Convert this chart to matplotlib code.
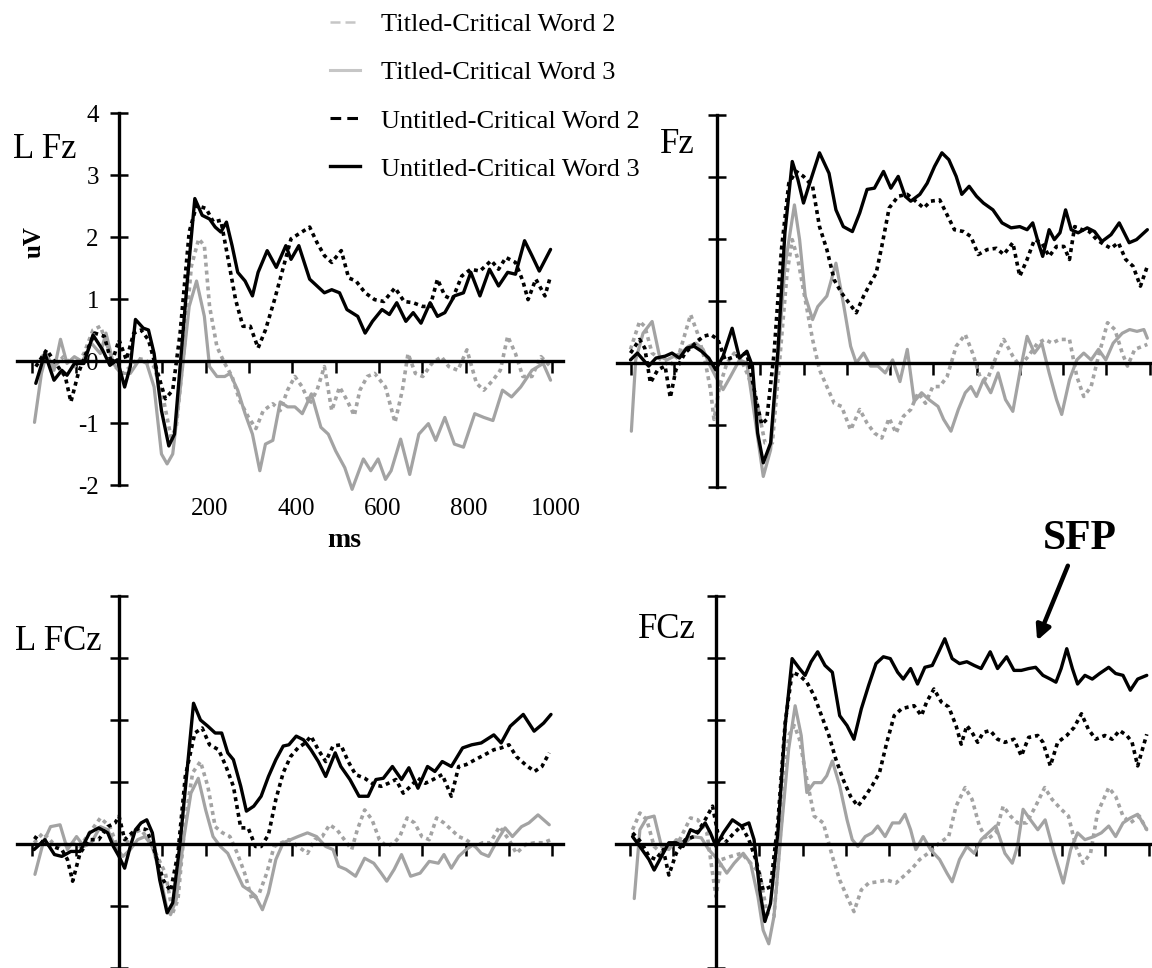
import matplotlib
matplotlib.use("Agg")
import matplotlib.pyplot as plt
from matplotlib.lines import Line2D

plt.rcParams["font.family"] = ["Liberation Serif", "DejaVu Serif"]
plt.rcParams["axes.unicode_minus"] = False

# ---- data: (ms, uV) pairs ----
lfz_titled2 = [(-192, -0.04), (-171, 0.12), (-150, -0.09), (-128, 0.07), (-103, -0.09), (-81, 0.12), (-60, 0.50), (-43, 0.56), (-26, 0.23), (-9, -0.09), (9, -0.20), (26, -0.09), (43, 0.04), (60, 0.02), (81, -0.09), (103, -0.63), (120, -1.23), (132, -1.07), (150, 0.18), (167, 1.53), (184, 1.97), (197, 1.86), (209, 0.88), (226, 0.23), (244, -0.04), (261, -0.25), (278, -0.63), (299, -0.91), (316, -1.09), (333, -0.80), (355, -0.69), (372, -0.80), (389, -0.47), (406, -0.25), (423, -0.42), (440, -0.69), (457, -0.47), (474, -0.09), (491, -0.80), (509, -0.42), (526, -0.63), (543, -0.88), (556, -0.47), (573, -0.25), (590, -0.20), (615, -0.42), (637, -0.99), (654, -0.47), (667, 0.12), (684, -0.20), (701, -0.25), (722, -0.04), (744, 0.07), (761, -0.09), (782, -0.15), (803, 0.18), (825, -0.36), (842, -0.47), (863, -0.31), (880, -0.15), (897, 0.40), (915, 0.12), (932, -0.25), (953, -0.25), (974, 0.07), (996, -0.09)]
lfz_titled3 = [(-195, -0.99), (-179, -0.20), (-167, 0.12), (-150, -0.15), (-135, 0.35), (-120, -0.04), (-103, 0.07), (-85, -0.01), (-64, 0.29), (-43, 0.12), (-30, 0.45), (-13, -0.04), (4, -0.20), (26, -0.20), (47, 0.02), (64, -0.04), (81, -0.42), (98, -1.50), (111, -1.66), (124, -1.50), (141, -0.47), (162, 0.88), (179, 1.29), (197, 0.72), (209, -0.09), (226, -0.25), (244, -0.25), (256, -0.20), (274, -0.47), (291, -0.85), (308, -1.18), (325, -1.77), (338, -1.34), (355, -1.28), (372, -0.66), (389, -0.74), (406, -0.74), (423, -0.85), (444, -0.53), (466, -1.07), (483, -1.18), (500, -1.45), (521, -1.72), (538, -2.07), (564, -1.58), (581, -1.77), (598, -1.58), (615, -1.91), (628, -1.77), (650, -1.26), (671, -1.83), (692, -1.18), (714, -1.01), (731, -1.28), (752, -0.91), (774, -1.34), (795, -1.39), (821, -0.85), (842, -0.91), (863, -0.96), (885, -0.47), (906, -0.58), (927, -0.42), (953, -0.15), (979, -0.04), (996, -0.31)]
lfz_untitled2 = [(-192, -0.09), (-167, 0.18), (-141, -0.09), (-124, -0.25), (-111, -0.66), (-94, -0.20), (-73, 0.18), (-56, 0.45), (-34, 0.40), (-17, -0.04), (0, 0.34), (17, 0.02), (34, 0.45), (51, 0.50), (68, 0.34), (85, -0.09), (107, -0.61), (124, -0.47), (141, 0.45), (162, 2.08), (179, 2.51), (201, 2.46), (218, 2.24), (235, 2.27), (252, 1.64), (269, 0.99), (286, 0.56), (303, 0.56), (321, 0.21), (338, 0.50), (359, 0.99), (380, 1.53), (397, 1.97), (415, 2.05), (440, 2.16), (457, 1.91), (474, 1.70), (491, 1.59), (513, 1.78), (530, 1.34), (547, 1.29), (568, 1.10), (590, 0.99), (611, 0.96), (637, 1.18), (658, 0.96), (679, 0.94), (701, 0.88), (718, 0.88), (735, 1.32), (752, 1.05), (769, 0.99), (791, 1.37), (812, 1.48), (833, 1.45), (859, 1.62), (876, 1.48), (893, 1.67), (915, 1.59), (932, 1.29), (944, 0.99), (962, 1.32), (983, 1.05), (996, 1.37)]
lfz_untitled3 = [(-192, -0.36), (-171, 0.12), (-150, -0.31), (-132, -0.15), (-120, -0.23), (-103, -0.04), (-81, -0.04), (-60, 0.42), (-38, 0.18), (-21, -0.07), (-4, 0.02), (13, -0.42), (26, -0.09), (38, 0.67), (56, 0.53), (68, 0.50), (81, 0.12), (98, -0.80), (115, -1.37), (128, -1.18), (141, -0.09), (158, 1.32), (175, 2.62), (192, 2.35), (209, 2.29), (222, 2.16), (235, 2.08), (248, 2.24), (261, 1.86), (274, 1.43), (291, 1.29), (308, 1.05), (321, 1.43), (342, 1.78), (363, 1.51), (385, 1.86), (397, 1.64), (415, 1.86), (440, 1.32), (457, 1.21), (474, 1.10), (491, 1.15), (509, 1.10), (526, 0.83), (551, 0.72), (568, 0.45), (585, 0.64), (607, 0.83), (624, 0.75), (641, 0.94), (662, 0.64), (679, 0.78), (697, 0.61), (718, 0.94), (735, 0.72), (752, 0.78), (774, 1.05), (795, 1.10), (812, 1.43), (833, 1.05), (855, 1.48), (876, 1.21), (897, 1.43), (915, 1.40), (936, 1.94), (953, 1.70), (970, 1.45), (996, 1.80)]

fz_titled2 = [(-200, 0.22), (-179, 0.67), (-167, 0.59), (-150, 0.16), (-129, 0.05), (-108, -0.05), (-87, 0.16), (-61, 0.78), (-45, 0.48), (-28, 0.05), (-15, -0.43), (-7, -0.91), (6, -0.38), (23, 0.0), (40, 0.16), (56, 0.05), (73, -0.22), (94, -0.70), (111, -1.29), (128, -1.29), (145, 0.05), (162, 1.45), (174, 1.99), (187, 1.67), (204, 1.02), (221, 0.38), (237, -0.11), (254, -0.38), (271, -0.65), (288, -0.70), (309, -1.08), (330, -0.75), (347, -0.97), (364, -1.13), (381, -1.21), (398, -0.89), (414, -1.13), (431, -0.86), (448, -0.75), (465, -0.48), (482, -0.65), (499, -0.38), (515, -0.38), (532, -0.22), (553, 0.27), (574, 0.46), (591, 0.16), (608, -0.22), (625, -0.27), (646, 0.11), (663, 0.38), (684, 0.11), (700, -0.05), (720, 0.11), (741, 0.32), (758, 0.38), (775, 0.32), (792, 0.38), (815, 0.38), (832, -0.22), (848, -0.54), (865, -0.38), (882, 0.11), (903, 0.65), (920, 0.54), (937, 0.16), (949, -0.05), (966, 0.22), (995, 0.30)]
fz_titled3 = [(-198, -1.10), (-188, 0.05), (-171, 0.48), (-150, 0.67), (-133, 0.11), (-116, 0.05), (-99, 0.11), (-83, 0.16), (-66, 0.27), (-49, 0.32), (-32, 0.22), (-19, 0.0), (-3, -0.22), (14, -0.43), (31, -0.22), (52, 0.05), (69, 0.0), (86, -0.81), (107, -1.83), (124, -1.40), (141, 0.05), (157, 1.56), (179, 2.55), (191, 1.99), (204, 1.08), (221, 0.70), (233, 0.91), (254, 1.08), (275, 1.61), (292, 0.97), (309, 0.27), (322, 0.0), (339, 0.16), (355, -0.05), (372, -0.05), (389, -0.16), (406, 0.05), (423, -0.30), (440, 0.22), (456, -0.62), (473, -0.48), (490, -0.59), (511, -0.70), (524, -0.91), (541, -1.10), (558, -0.75), (574, -0.48), (587, -0.38), (600, -0.54), (616, -0.27), (633, -0.48), (650, -0.16), (667, -0.59), (684, -0.78), (700, -0.16), (717, 0.43), (734, 0.16), (751, 0.32), (768, -0.16), (785, -0.59), (797, -0.83), (815, -0.27), (832, 0.05), (848, 0.16), (865, 0.05), (882, 0.22), (899, 0.05), (916, 0.32), (937, 0.48), (954, 0.54), (971, 0.51), (987, 0.54), (995, 0.40)]
fz_untitled2 = [(-200, 0.16), (-179, 0.38), (-167, 0.24), (-154, -0.32), (-137, -0.11), (-120, -0.05), (-108, -0.56), (-95, -0.11), (-74, 0.16), (-53, 0.30), (-32, 0.43), (-15, 0.46), (2, 0.38), (19, 0.05), (44, 0.11), (69, 0.16), (86, -0.43), (103, -0.99), (115, -0.91), (132, 0.16), (149, 1.83), (166, 2.90), (183, 3.09), (200, 3.01), (221, 2.85), (237, 2.20), (254, 1.83), (271, 1.34), (288, 1.13), (305, 0.97), (322, 0.81), (339, 1.08), (355, 1.29), (368, 1.45), (381, 1.88), (398, 2.50), (419, 2.69), (440, 2.72), (456, 2.63), (478, 2.50), (494, 2.61), (515, 2.63), (532, 2.39), (549, 2.15), (570, 2.12), (587, 2.04), (604, 1.75), (625, 1.83), (646, 1.85), (663, 1.75), (684, 1.94), (700, 1.40), (717, 1.67), (734, 1.99), (751, 1.94), (768, 1.72), (785, 1.88), (802, 1.88), (815, 1.67), (827, 2.20), (844, 2.15), (861, 2.12), (878, 1.99), (895, 1.91), (911, 1.85), (928, 1.94), (945, 1.67), (962, 1.56), (979, 1.24), (995, 1.56)]
fz_untitled3 = [(-200, 0.05), (-184, 0.16), (-158, -0.05), (-141, 0.08), (-120, 0.11), (-104, 0.16), (-87, 0.08), (-70, 0.24), (-53, 0.27), (-36, 0.19), (-19, 0.08), (-3, -0.11), (14, 0.11), (35, 0.56), (52, 0.08), (69, 0.19), (82, -0.05), (94, -1.13), (107, -1.61), (124, -1.29), (141, 0.22), (157, 2.10), (174, 3.25), (187, 2.96), (200, 2.58), (212, 2.85), (237, 3.39), (259, 3.06), (275, 2.47), (292, 2.20), (313, 2.12), (330, 2.42), (347, 2.80), (364, 2.82), (385, 3.09), (402, 2.82), (419, 3.01), (435, 2.69), (448, 2.61), (469, 2.72), (486, 2.90), (503, 3.17), (520, 3.39), (536, 3.28), (553, 3.01), (566, 2.72), (583, 2.85), (600, 2.69), (616, 2.58), (638, 2.47), (659, 2.26), (680, 2.18), (700, 2.20), (717, 2.15), (730, 2.26), (743, 1.94), (753, 1.72), (768, 2.15), (780, 1.99), (793, 2.10), (806, 2.47), (819, 2.15), (835, 2.10), (856, 2.18), (873, 2.12), (890, 1.96), (911, 2.07), (930, 2.26), (953, 1.94), (970, 1.99), (995, 2.15)]

lfcz_titled2 = [(-196, 0.02), (-175, 0.18), (-153, 0.02), (-132, -0.04), (-111, 0.02), (-90, -0.04), (-68, 0.18), (-43, 0.42), (-21, 0.28), (-4, -0.04), (17, 0.02), (34, 0.18), (51, 0.23), (68, 0.07), (85, -0.15), (107, -0.47), (124, -1.11), (136, -0.90), (153, 0.39), (170, 1.15), (188, 1.33), (205, 0.93), (222, 0.28), (239, 0.18), (256, 0.12), (273, -0.15), (290, -0.47), (307, -0.90), (324, -0.79), (341, -0.47), (358, -0.04), (375, 0.02), (392, 0.07), (413, -0.04), (435, -0.15), (452, 0.07), (469, 0.12), (486, 0.31), (503, 0.23), (520, 0.07), (537, -0.09), (550, 0.23), (567, 0.55), (584, 0.39), (601, 0.07), (618, -0.04), (635, 0.02), (648, 0.12), (665, 0.42), (682, 0.34), (699, 0.12), (716, 0.07), (733, 0.42), (750, 0.34), (767, 0.23), (784, 0.12), (801, 0.07), (822, -0.04), (839, 0.02), (857, 0.02), (878, 0.28), (900, 0.07), (917, -0.15), (938, -0.01), (959, 0.02), (980, 0.02), (997, 0.07)]
lfcz_titled3 = [(-194, -0.49), (-175, 0.02), (-158, 0.28), (-136, 0.31), (-119, -0.09), (-98, 0.12), (-81, -0.04), (-64, 0.02), (-43, 0.28), (-26, 0.23), (-9, -0.04), (9, -0.20), (26, -0.09), (43, 0.07), (60, 0.12), (77, -0.04), (94, -0.47), (111, -1.06), (119, -1.14), (132, -0.90), (149, 0.07), (166, 0.82), (183, 1.06), (200, 0.55), (217, 0.12), (234, -0.04), (251, -0.15), (268, -0.41), (286, -0.68), (303, -0.76), (315, -0.84), (331, -1.06), (345, -0.79), (362, -0.25), (379, 0.02), (396, 0.07), (413, 0.12), (435, 0.18), (456, 0.12), (477, -0.04), (494, -0.09), (507, -0.36), (524, -0.41), (546, -0.52), (567, -0.23), (588, -0.31), (605, -0.47), (618, -0.60), (635, -0.41), (652, -0.17), (673, -0.52), (695, -0.47), (716, -0.28), (737, -0.31), (750, -0.17), (767, -0.39), (784, -0.20), (801, -0.09), (818, -0.01), (836, -0.15), (853, -0.20), (874, 0.07), (891, 0.26), (908, 0.12), (929, 0.28), (946, 0.34), (967, 0.47), (993, 0.31)]
lfcz_untitled2 = [(-196, 0.12), (-175, 0.02), (-153, -0.04), (-132, -0.09), (-119, -0.25), (-107, -0.60), (-90, -0.15), (-68, 0.07), (-47, 0.07), (-26, 0.28), (-9, 0.34), (0, 0.45), (13, 0.07), (30, 0.18), (47, 0.26), (64, 0.23), (81, -0.09), (102, -0.58), (119, -0.76), (136, -0.15), (153, 1.09), (175, 1.79), (192, 1.87), (209, 1.60), (230, 1.52), (247, 1.25), (264, 0.93), (281, 0.26), (298, 0.26), (315, -0.04), (328, -0.04), (345, 0.15), (362, 0.72), (379, 1.15), (396, 1.41), (413, 1.55), (430, 1.63), (443, 1.74), (460, 1.52), (477, 1.33), (494, 1.58), (512, 1.60), (529, 1.33), (546, 1.12), (567, 1.06), (588, 0.96), (605, 0.93), (622, 0.98), (639, 1.04), (656, 0.82), (673, 0.93), (690, 1.06), (707, 0.98), (725, 1.04), (746, 1.12), (767, 0.77), (784, 1.25), (801, 1.28), (822, 1.36), (844, 1.44), (865, 1.52), (882, 1.55), (900, 1.60), (917, 1.41), (938, 1.28), (959, 1.17), (976, 1.25), (993, 1.47)]
lfcz_untitled3 = [(-196, -0.09), (-171, 0.07), (-149, -0.17), (-132, -0.20), (-111, -0.12), (-90, -0.12), (-68, 0.18), (-47, 0.26), (-26, 0.18), (-13, -0.04), (0, -0.20), (13, -0.39), (26, -0.04), (38, 0.23), (51, 0.34), (64, 0.39), (77, 0.18), (94, -0.58), (111, -1.11), (124, -0.95), (141, 0.02), (158, 1.25), (172, 2.27), (188, 2.00), (205, 1.90), (222, 1.79), (237, 1.79), (251, 1.47), (264, 1.36), (281, 0.93), (294, 0.53), (311, 0.61), (328, 0.77), (345, 1.09), (362, 1.36), (379, 1.58), (392, 1.60), (409, 1.74), (426, 1.68), (443, 1.52), (460, 1.33), (477, 1.09), (499, 1.47), (512, 1.25), (533, 1.04), (554, 0.77), (575, 0.77), (593, 1.04), (610, 1.06), (631, 1.25), (652, 1.04), (669, 1.23), (690, 0.90), (712, 1.25), (729, 1.17), (746, 1.33), (767, 1.25), (793, 1.55), (814, 1.60), (836, 1.63), (865, 1.76), (882, 1.63), (903, 1.90), (933, 2.09), (958, 1.82), (980, 1.95), (997, 2.09)]

fcz_titled2 = [(-193, 0.23), (-176, 0.50), (-160, 0.39), (-143, -0.04), (-126, -0.15), (-109, -0.04), (-84, 0.07), (-59, 0.42), (-42, 0.39), (-21, 0.18), (-8, -0.47), (0, -0.85), (13, -0.25), (34, -0.20), (59, -0.15), (80, -0.31), (101, -0.47), (118, -1.12), (134, -1.17), (151, 0.34), (168, 1.75), (181, 1.91), (193, 1.69), (210, 1.04), (227, 0.45), (248, 0.34), (269, -0.20), (286, -0.58), (303, -0.85), (319, -1.09), (336, -0.74), (353, -0.63), (374, -0.61), (395, -0.58), (416, -0.63), (437, -0.50), (454, -0.39), (471, -0.25), (496, -0.12), (517, 0.02), (538, 0.12), (555, 0.61), (576, 0.91), (592, 0.72), (609, 0.29), (626, 0.07), (647, 0.18), (664, 0.61), (681, 0.45), (697, 0.34), (718, 0.34), (739, 0.61), (760, 0.91), (777, 0.72), (798, 0.56), (815, 0.45), (832, -0.04), (849, -0.31), (866, -0.15), (882, 0.50), (908, 0.91), (924, 0.77), (941, 0.45), (958, 0.34), (979, 0.45), (996, 0.23)]
fcz_titled3 = [(-189, -0.88), (-176, 0.23), (-160, 0.42), (-143, 0.45), (-126, -0.04), (-109, -0.09), (-92, 0.07), (-71, 0.02), (-55, 0.12), (-34, 0.10), (-17, -0.09), (4, -0.25), (25, -0.47), (42, -0.31), (63, -0.15), (80, -0.31), (97, -0.85), (109, -1.39), (122, -1.61), (134, -1.17), (151, 0.23), (168, 1.53), (183, 2.23), (197, 1.75), (210, 0.83), (227, 0.99), (244, 0.99), (256, 1.10), (269, 1.34), (286, 0.94), (303, 0.39), (315, 0.07), (328, -0.04), (345, 0.12), (361, 0.18), (374, 0.29), (391, 0.12), (408, 0.34), (424, 0.34), (437, 0.48), (450, 0.23), (462, -0.09), (479, 0.12), (496, -0.09), (517, -0.25), (534, -0.47), (546, -0.61), (563, -0.25), (580, -0.04), (597, -0.15), (613, 0.07), (630, 0.18), (647, 0.29), (668, -0.15), (685, -0.31), (697, -0.04), (710, 0.56), (727, 0.39), (744, 0.23), (761, 0.39), (782, -0.15), (803, -0.63), (820, -0.09), (836, 0.18), (853, 0.07), (874, 0.12), (891, 0.18), (908, 0.29), (924, 0.12), (941, 0.34), (958, 0.42), (975, 0.48), (987, 0.34), (996, 0.23)]
fcz_untitled2 = [(-193, 0.18), (-172, 0.02), (-155, -0.20), (-139, -0.25), (-122, -0.09), (-109, -0.50), (-92, -0.15), (-71, 0.07), (-50, 0.12), (-29, 0.34), (-8, 0.61), (4, 0.18), (21, 0.02), (42, 0.18), (59, 0.29), (76, 0.07), (92, -0.25), (109, -0.74), (126, -0.69), (143, 0.34), (160, 1.96), (176, 2.77), (193, 2.72), (210, 2.61), (227, 2.39), (244, 2.07), (261, 1.75), (277, 1.37), (294, 1.04), (311, 0.77), (328, 0.61), (345, 0.77), (361, 0.94), (378, 1.15), (395, 1.64), (412, 2.07), (429, 2.18), (445, 2.21), (458, 2.23), (475, 2.07), (487, 2.29), (504, 2.50), (521, 2.29), (538, 2.21), (555, 1.91), (567, 1.61), (580, 1.91), (592, 1.80), (605, 1.64), (618, 1.80), (634, 1.83), (651, 1.69), (668, 1.64), (689, 1.69), (706, 1.42), (723, 1.72), (744, 1.75), (756, 1.64), (773, 1.26), (790, 1.64), (811, 1.75), (828, 1.88), (845, 2.10), (861, 1.85), (878, 1.69), (899, 1.75), (916, 1.69), (933, 1.83), (950, 1.75), (962, 1.64), (975, 1.26), (996, 1.77)]
fcz_untitled3 = [(-193, 0.12), (-176, -0.04), (-155, -0.25), (-143, -0.42), (-126, -0.20), (-109, 0.02), (-92, 0.02), (-76, -0.04), (-59, 0.23), (-42, 0.18), (-25, 0.34), (-13, 0.18), (0, -0.04), (17, 0.18), (38, 0.39), (59, 0.29), (76, 0.34), (88, 0.07), (101, -0.74), (113, -1.25), (126, -0.96), (143, 0.18), (160, 1.91), (176, 2.99), (193, 2.83), (206, 2.72), (220, 2.94), (235, 3.10), (252, 2.88), (269, 2.77), (286, 2.07), (303, 1.91), (319, 1.69), (336, 2.18), (353, 2.56), (370, 2.91), (387, 3.02), (403, 2.99), (420, 2.77), (433, 2.66), (450, 2.83), (466, 2.58), (483, 2.85), (500, 2.88), (513, 3.07), (529, 3.31), (546, 2.99), (563, 2.91), (580, 2.94), (597, 2.88), (613, 2.83), (634, 3.10), (651, 2.83), (672, 3.02), (689, 2.80), (706, 2.80), (723, 2.83), (739, 2.85), (756, 2.72), (773, 2.66), (786, 2.61), (798, 2.83), (811, 3.15), (824, 2.83), (836, 2.58), (853, 2.72), (870, 2.66), (887, 2.75), (908, 2.85), (924, 2.75), (941, 2.72), (958, 2.48), (975, 2.66), (996, 2.72)]

labels = ["Titled-Critical Word 2", "Titled-Critical Word 3",
          "Untitled-Critical Word 2", "Untitled-Critical Word 3"]
x_ticks = list(range(-200, 1001, 100))
x_labels = [200, 400, 600, 800, 1000]
y_ticks = [-2, -1, 0, 1, 2, 3, 4]

GREY = "#a3a3a3"
W, H = 1152, 968
fig = plt.figure(figsize=(W / 100, H / 100), dpi=100)


def make_panel(box, origin, scale, xbounds):
    # box in pixels (left, top, right, bottom); origin = pixel of (0 ms, 0 uV)
    left, top, right, bottom = box
    x0, y0 = origin
    sx, sy = scale
    ax = fig.add_axes([left / W, 1 - bottom / H, (right - left) / W, (bottom - top) / H])
    ax.set_xlim((left - x0) / sx, (right - x0) / sx)
    ax.set_ylim((y0 - bottom) / sy, (y0 - top) / sy)
    ax.patch.set_visible(False)
    for side in ["top", "right"]:
        ax.spines[side].set_visible(False)
    for side in ["left", "bottom"]:
        ax.spines[side].set_position(("data", 0))
        ax.spines[side].set_linewidth(2.4)
    ax.spines["left"].set_bounds(-2, 4)
    ax.spines["bottom"].set_bounds(*xbounds)
    ax.set_xticks(x_ticks)
    ax.set_yticks(y_ticks)
    ax.tick_params(axis="x", direction="out", length=8.5, width=1.8, labelbottom=False)
    ax.tick_params(axis="y", direction="inout", length=13, width=1.8, labelleft=False)
    return ax


def draw_series(ax, t2, t3, u2, u3):
    dots = (0, (1.1, 1.1))
    for data, color, ls, lw in [(t2, GREY, dots, 2.6), (t3, GREY, "-", 2.3),
                                (u2, "black", dots, 2.6), (u3, "black", "-", 2.4)]:
        xs = [p[0] for p in data]
        ys = [p[1] for p in data]
        ax.plot(xs, ys, color=color, linestyle=ls, linewidth=lw, clip_on=False,
                solid_joinstyle="round", solid_capstyle="round")


ax_lfz = make_panel((0, 95, 580, 525), (119, 361), (0.4333, 62), (-235, 1025))
ax_fz = make_panel((585, 95, 1152, 525), (717, 363), (0.4325, 62), (-231, 1010))
ax_lfcz = make_panel((0, 570, 580, 968), (119, 844), (0.4333, 62), (-235, 1025))
ax_fcz = make_panel((585, 570, 1152, 968), (716, 844), (0.4325, 62), (-231, 1010))

draw_series(ax_lfz, lfz_titled2, lfz_titled3, lfz_untitled2, lfz_untitled3)
draw_series(ax_fz, fz_titled2, fz_titled3, fz_untitled2, fz_untitled3)
draw_series(ax_lfcz, lfcz_titled2, lfcz_titled3, lfcz_untitled2, lfcz_untitled3)
draw_series(ax_fcz, fcz_titled2, fcz_titled3, fcz_untitled2, fcz_untitled3)

# y tick labels and axis titles only on the first panel
ax_lfz.tick_params(axis="y", labelleft=True, labelsize=18, pad=8)
for v in x_labels:
    ax_lfz.text(v + 8, -2.39, str(v), ha="center", va="center", fontsize=18)
ax_lfz.text(519, -2.89, "ms", ha="center", va="center", fontsize=20, fontweight="bold")
ax_lfz.text(-195, 1.92, "uV", ha="center", va="center", fontsize=18,
            fontweight="bold", rotation=90)

# electrode names
ax_lfz.text(-245, 3.27, "L Fz", ha="left", va="baseline", fontsize=25)
ax_fz.text(-51, 3.39, "Fz", ha="right", va="baseline", fontsize=25)
ax_lfcz.text(-240, 3.13, "L FCz", ha="left", va="baseline", fontsize=25)
ax_fcz.text(-46, 3.32, "FCz", ha="right", va="baseline", fontsize=25)

# SFP annotation
ax_fcz.text(842, 4.76, "SFP", ha="center", va="baseline", fontsize=30, fontweight="bold")
ax_fcz.annotate("", xy=(740, 3.24), xytext=(816, 4.53), annotation_clip=False,
                arrowprops=dict(arrowstyle="-|>", lw=3.2, color="black", mutation_scale=22))

handles = [
    Line2D([], [], color="#c6c6c6", lw=1.8, dashes=(4, 2)),
    Line2D([], [], color="#c6c6c6", lw=2.2),
    Line2D([], [], color="black", lw=2.2, dashes=(3.5, 2)),
    Line2D([], [], color="black", lw=2.4),
]
fig.legend(handles, labels, loc="upper left", bbox_to_anchor=(330 / W, 1 - 13 / H),
           frameon=False, fontsize=19, handlelength=1.15, handletextpad=0.8,
           labelspacing=0.93, borderpad=0, borderaxespad=0)

fig.savefig("out.png", dpi=100)
